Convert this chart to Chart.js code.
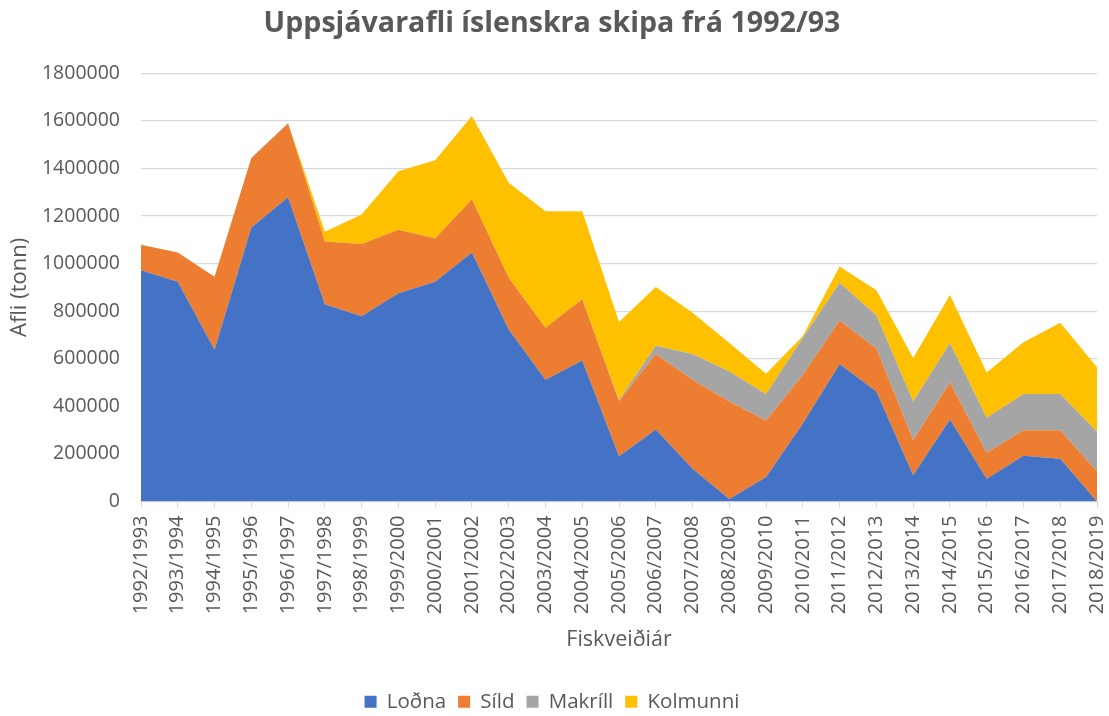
<!DOCTYPE html>
<html>
<head>
<meta charset="utf-8">
<script src="https://cdn.jsdelivr.net/npm/chart.js@4"></script>
<style>
  html, body { margin: 0; padding: 0; background: #fff; overflow: hidden; }
  #wrap { width: 1109px; height: 716px; }
</style>
</head>
<body>
<div id="wrap"><canvas id="aflaChart"></canvas></div>
<script>
const years = ["1992/1993", "1993/1994", "1994/1995", "1995/1996", "1996/1997", "1997/1998", "1998/1999",
  "1999/2000", "2000/2001", "2001/2002", "2002/2003", "2003/2004", "2004/2005", "2005/2006", "2006/2007",
  "2007/2008", "2008/2009", "2009/2010", "2010/2011", "2011/2012", "2012/2013", "2013/2014", "2014/2015",
  "2015/2016", "2016/2017", "2017/2018", "2018/2019"];

const lodna = [972000, 924000, 638000, 1152000, 1279000, 829000, 779000, 875000, 924000, 1047000, 723000,
  512000, 593000, 190000, 303000, 138000, 11000, 103000, 328000, 578000, 462000, 110000, 345000, 96000,
  192000, 180000, 0];
const sild = [107000, 123000, 307000, 292000, 311000, 264000, 303000, 267000, 182000, 224000, 218000,
  218000, 257000, 233000, 317000, 374000, 409000, 237000, 205000, 183000, 181000, 148000, 156000, 109000,
  108000, 120000, 127000];
const makrill = [0, 0, 0, 0, 0, 0, 0, 0, 0, 0, 0, 0, 0, 4000, 35000, 108000, 127000, 112000, 155000, 159000,
  140000, 162000, 165000, 147000, 152000, 152000, 166000];
const kolmunni = [0, 0, 0, 0, 0, 41000, 124000, 246000, 329000, 350000, 399000, 490000, 370000, 328000,
  247000, 173000, 119000, 85000, 8000, 68000, 105000, 183000, 202000, 190000, 217000, 299000, 271000];

const yTicks = [0, 200000, 400000, 600000, 800000, 1000000, 1200000, 1400000, 1600000, 1800000];

const txt = '#595959';
const fam = '"Open Sans", "Liberation Sans", sans-serif';

function area(label, data, color, fill) {
  return {
    label: label,
    data: data,
    backgroundColor: color,
    borderColor: color,
    borderWidth: 0,
    pointRadius: 0,
    pointHoverRadius: 0,
    tension: 0,
    fill: fill
  };
}

new Chart(document.getElementById('aflaChart'), {
  type: 'line',
  data: {
    labels: years,
    datasets: [
      area('Loðna', lodna, '#4472C4', 'origin'),
      area('Síld', sild, '#ED7D31', '-1'),
      area('Makríll', makrill, '#A5A5A5', '-1'),
      area('Kolmunni', kolmunni, '#FFC000', '-1')
    ]
  },
  options: {
    responsive: true,
    maintainAspectRatio: false,
    animation: false,
    layout: { padding: { left: 7, right: 12, top: 5, bottom: -6 } },
    scales: {
      x: {
        offset: false,
        border: { display: true, color: '#D9D9D9', width: 1 },
        grid: { display: true, drawOnChartArea: false, drawTicks: true, tickLength: 6, color: '#D9D9D9', lineWidth: 1 },
        ticks: {
          color: txt, autoSkip: false, maxRotation: 90, minRotation: 90, padding: 8,
          font: { family: fam, size: 20 }
        },
        title: {
          display: true, text: 'Fiskveiðiár', color: txt,
          font: { family: fam, size: 21.5 }, padding: { top: 4, bottom: 27 }
        },
        afterFit: function (scale) {
          scale.height = 178;
          scale.paddingLeft = 0;
          scale.paddingRight = 0;
        }
      },
      y: {
        stacked: true,
        min: 0,
        max: 1800000,
        afterBuildTicks: function (axis) {
          axis.ticks = yTicks.map(function (v) { return { value: v }; });
        },
        afterFit: function (scale) {
          scale.width = 134;
        },
        border: { display: false },
        grid: { color: '#D9D9D9', lineWidth: 1.2, drawTicks: false },
        ticks: {
          color: txt, padding: 21,
          font: { family: fam, size: 19.5 },
          callback: function (v) { return String(v); }
        },
        title: {
          display: true, text: 'Afli (tonn)', color: txt,
          font: { family: fam, size: 22 }, padding: { top: 0, bottom: 0 }
        }
      }
    },
    plugins: {
      title: {
        display: true,
        text: 'Uppsjávarafli íslenskra skipa frá 1992/93',
        color: txt,
        font: { family: fam, size: 28.6, weight: 'bold' },
        padding: { top: 2, bottom: 32 }
      },
      legend: {
        position: 'bottom',
        labels: {
          color: txt, boxWidth: 12, boxHeight: 12, padding: 12,
          font: { family: fam, size: 20.5 }
        }
      },
      tooltip: { enabled: false }
    }
  }
});
</script>
</body>
</html>
